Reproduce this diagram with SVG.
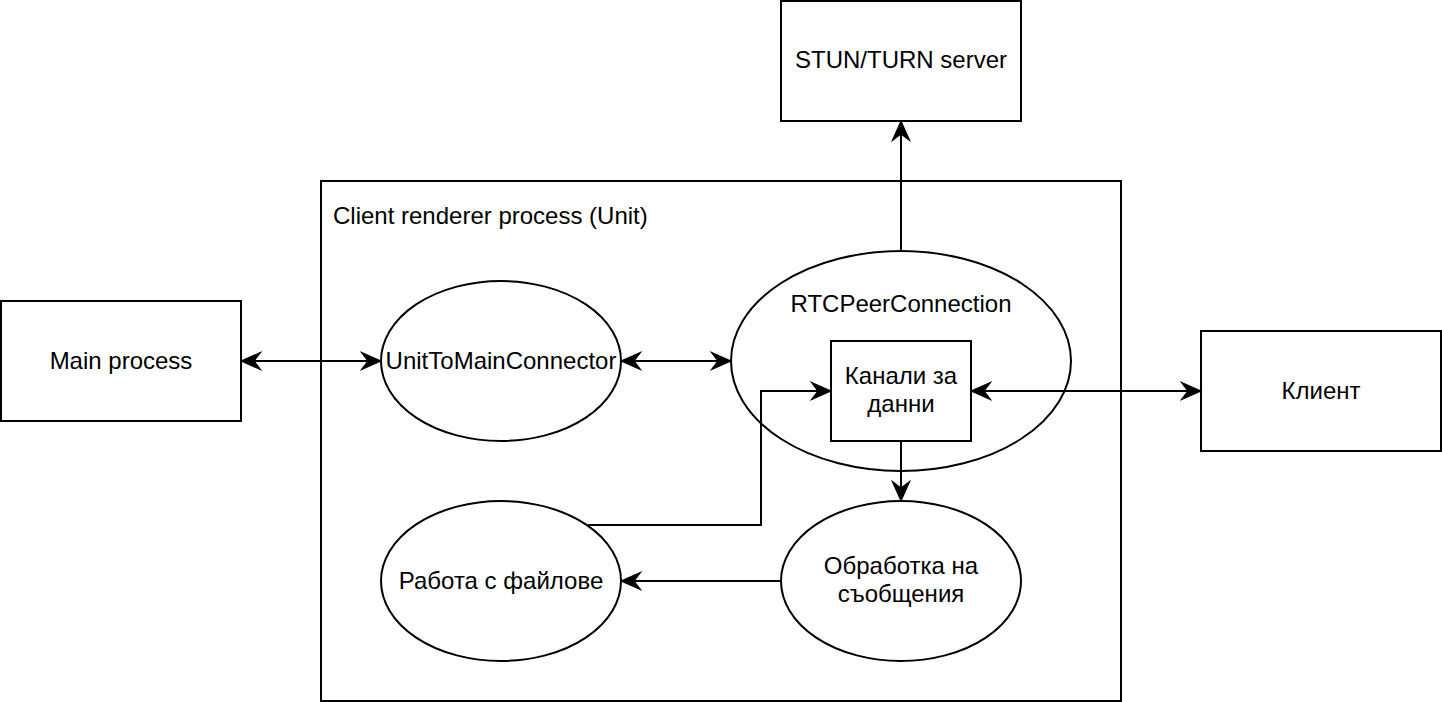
<svg xmlns="http://www.w3.org/2000/svg" width="1442" height="702" viewBox="0 0 1442 702">
<style>
.shape{fill:#ffffff;stroke:#000000;stroke-width:2}
.edge{fill:none;stroke:#000000;stroke-width:2}
text{font-family:"Liberation Sans",Arial,Helvetica,sans-serif;font-size:24px;fill:#000000;text-anchor:middle}
</style>
<defs>
<marker id="arr" markerUnits="userSpaceOnUse" markerWidth="24" markerHeight="24" viewBox="-20 -10 22 20" refX="0" refY="0" orient="auto-start-reverse">
<path d="M0,0 L-18,-8 L-12,0 L-18,8 Z" fill="#000000" stroke="#000000" stroke-width="1"/>
</marker>
</defs>
<rect width="1442" height="702" fill="#ffffff"/>
<g id="container">
<rect class="shape" x="321" y="181" width="800" height="520"/>
<text x="333" y="224" style="text-anchor:start">Client renderer process (Unit)</text>
</g>
<g id="stun">
<rect class="shape" x="781" y="1" width="240" height="120"/>
<text x="901" y="68">STUN/TURN server</text>
</g>
<g id="main-process">
<rect class="shape" x="1" y="301" width="240" height="120"/>
<text x="121" y="369">Main process</text>
</g>
<g id="client">
<rect class="shape" x="1201" y="331" width="240" height="120"/>
<text x="1321" y="399">Клиент</text>
</g>
<g id="unit-to-main">
<ellipse class="shape" cx="501" cy="361" rx="120" ry="80"/>
<text x="501" y="369">UnitToMainConnector</text>
</g>
<g id="rtc">
<ellipse class="shape" cx="901" cy="361" rx="170" ry="110"/>
<text x="901" y="312">RTCPeerConnection</text>
</g>
<g id="channels">
<rect class="shape" x="831" y="341" width="140" height="100"/>
<text x="901" y="384">Канали за</text>
<text x="901" y="412">данни</text>
</g>
<g id="files">
<ellipse class="shape" cx="501" cy="581" rx="120" ry="80"/>
<text x="501" y="589">Работа с файлове</text>
</g>
<g id="messages">
<ellipse class="shape" cx="901" cy="581" rx="120" ry="80"/>
<text x="901" y="574">Обработка на</text>
<text x="901" y="602">съобщения</text>
</g>
<g id="connectors">
<path class="edge" d="M241,361 L381,361" marker-start="url(#arr)" marker-end="url(#arr)"/>
<path class="edge" d="M621,361 L731,361" marker-start="url(#arr)" marker-end="url(#arr)"/>
<path class="edge" d="M901,251 L901,121" marker-end="url(#arr)"/>
<path class="edge" d="M971,391 L1201,391" marker-start="url(#arr)" marker-end="url(#arr)"/>
<path class="edge" d="M901,441 L901,501" marker-end="url(#arr)"/>
<path class="edge" d="M781,581 L621,581" marker-end="url(#arr)"/>
<path class="edge" d="M588,525 L761,525 L761,391 L831,391" marker-end="url(#arr)"/>
</g>
</svg>
